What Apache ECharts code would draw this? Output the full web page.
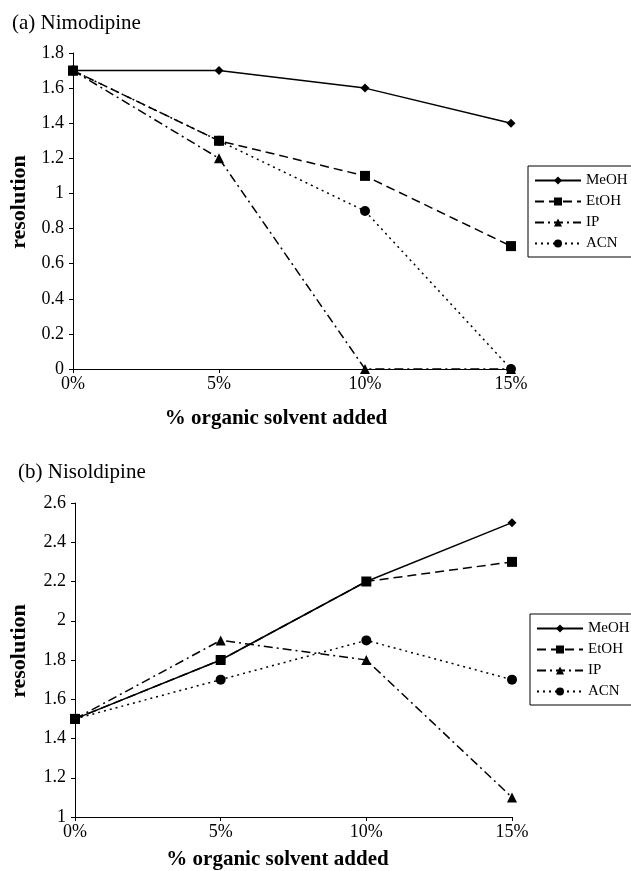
<!DOCTYPE html>
<html>
<head>
<meta charset="utf-8">
<script src="https://cdn.jsdelivr.net/npm/echarts@6/dist/echarts.min.js"></script>
<style>html,body{margin:0;padding:0;background:#fff}#c{width:631px;height:871px}</style>
</head>
<body>
<div id="c"></div>
<script>
const categories = ['0%', '5%', '10%', '15%'];
const seriesNames = ['MeOH', 'EtOH', 'IP', 'ACN'];
// (a) Nimodipine
const nimoMeOH = [1.7, 1.7, 1.6, 1.4];
const nimoEtOH = [1.7, 1.3, 1.1, 0.7];
const nimoIP   = [1.7, 1.2, 0, 0];
const nimoACN  = [1.7, 1.3, 0.9, 0];
// (b) Nisoldipine
const nisoMeOH = [1.5, 1.8, 2.2, 2.5];
const nisoEtOH = [1.5, 1.8, 2.2, 2.3];
const nisoIP   = [1.5, 1.9, 1.8, 1.1];
const nisoACN  = [1.5, 1.7, 1.9, 1.7];

const FONT = 'Liberation Serif';
const styles = {
  MeOH: {type: 'solid', symbol: 'diamond', size: 9},
  EtOH: {type: [9, 5], symbol: 'rect', size: 10},
  IP:   {type: [9, 4, 2, 4], symbol: 'triangle', size: 10},
  ACN:  {type: [2, 4], symbol: 'circle', size: 10}
};
function mk(name, data, idx) {
  const s = styles[name];
  return {
    name: name, type: 'line', data: data,
    xAxisIndex: idx, yAxisIndex: idx,
    symbol: s.symbol, symbolSize: s.size, showAllSymbol: true,
    lineStyle: {color: '#000', width: 1.5, type: s.type},
    itemStyle: {color: '#000'},
    animation: false
  };
}
function xAx(idx, gap) {
  return {
    type: 'category', gridIndex: idx, data: categories, boundaryGap: false,
    axisLine: {lineStyle: {color: '#000', width: 1}},
    axisTick: {show: true, alignWithLabel: true, length: 4, lineStyle: {color: '#000'}},
    axisLabel: {color: '#000', fontFamily: FONT, fontSize: 18, margin: 6},
    name: '% organic solvent added', nameLocation: 'middle', nameGap: gap,
    nameTextStyle: {color: '#000', fontFamily: FONT, fontSize: 21, fontWeight: 'bold', padding: [0, 32, 0, 0]}
  };
}
function yAx(idx, min, max, gap) {
  return {
    type: 'value', gridIndex: idx, min: min, max: max, interval: 0.2,
    axisLine: {show: true, lineStyle: {color: '#000', width: 1}},
    axisTick: {show: true, length: 4, lineStyle: {color: '#000'}},
    splitLine: {show: false},
    axisLabel: {color: '#000', fontFamily: FONT, fontSize: 18, margin: 9,
      formatter: v => String(Math.round(v * 10) / 10)},
    name: 'resolution', nameLocation: 'middle', nameGap: gap, nameRotate: 90,
    nameTextStyle: {color: '#000', fontFamily: FONT, fontSize: 22, fontWeight: 'bold', padding: [0, 0, 0, 18]}
  };
}
function leg(idx, left, top) {
  return {
    data: seriesNames.map(n => ({name: n})),
    orient: 'vertical', left: left, top: top,
    borderColor: '#000', borderWidth: 1, padding: [7, 4, 6, 6],
    itemGap: 6, itemWidth: 46, itemHeight: 10,
    textStyle: {color: '#000', fontFamily: FONT, fontSize: 15},
    selectedMode: false
  };
}
const chart = echarts.init(document.getElementById('c'));
chart.setOption({
  backgroundColor: '#fff',
  animation: false,
  title: [
    {text: '(a) Nimodipine', left: 7, top: 8, textStyle: {color: '#000', fontFamily: FONT, fontSize: 21, fontWeight: 'normal'}},
    {text: '(b) Nisoldipine', left: 13, top: 457, textStyle: {color: '#000', fontFamily: FONT, fontSize: 21, fontWeight: 'normal'}}
  ],
  grid: [
    {left: 72, top: 53, width: 439, height: 316},
    {left: 74, top: 503, width: 438, height: 315}
  ],
  xAxis: [xAx(0, 39), xAx(1, 32)],
  yAxis: [yAx(0, 0, 1.8, 43), yAx(1, 1, 2.6, 45)],
  legend: [leg(0, 528, 166), leg(1, 530, 614)],
  series: [
    mk('MeOH', nimoMeOH, 0), mk('EtOH', nimoEtOH, 0), mk('IP', nimoIP, 0), mk('ACN', nimoACN, 0),
    mk('MeOH', nisoMeOH, 1), mk('EtOH', nisoEtOH, 1), mk('IP', nisoIP, 1), mk('ACN', nisoACN, 1)
  ]
});
</script>
</body>
</html>
